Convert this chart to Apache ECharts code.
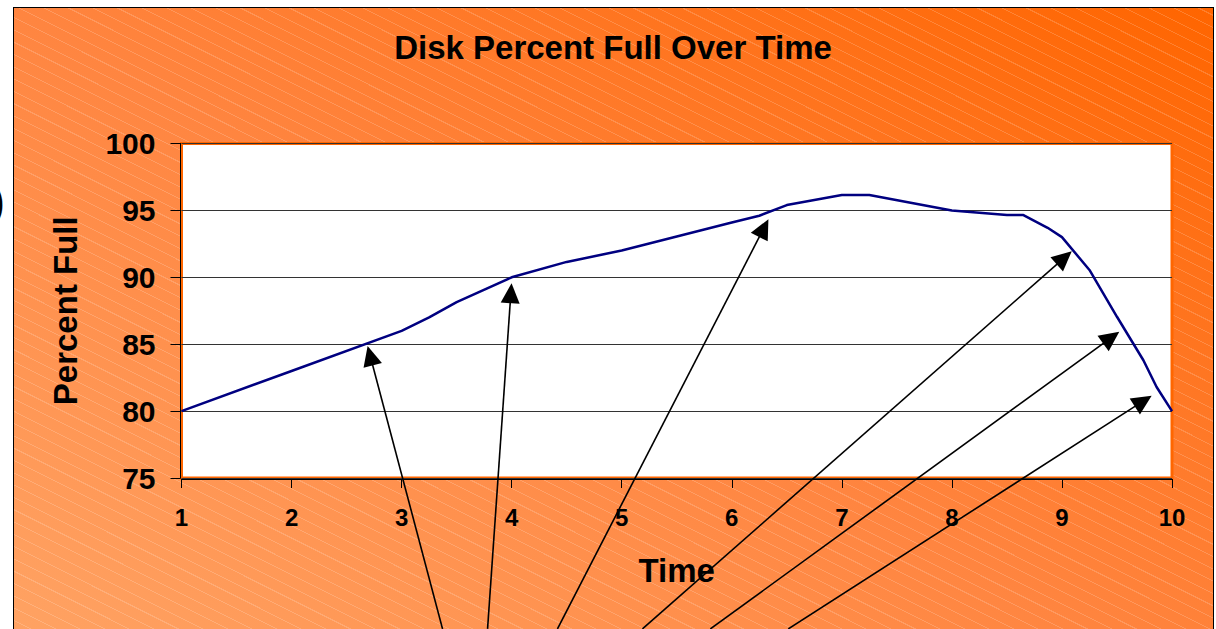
<!DOCTYPE html>
<html>
<head>
<meta charset="utf-8">
<script src="https://cdn.jsdelivr.net/npm/echarts@6/dist/echarts.min.js"></script>
<style>
  html, body { margin: 0; padding: 0; background: #ffffff; }
  #wrap { position: relative; width: 1216px; height: 629px; overflow: hidden; background: #ffffff; }
  #frame {
    position: absolute; left: 13px; top: 7px; width: 1201px; height: 700px;
    box-sizing: border-box; border: 1px solid #000;
    background:
      repeating-linear-gradient(26.6deg, rgba(255,255,255,0) 0px, rgba(255,255,255,0) 10px, rgba(255,255,255,0.17) 10px, rgba(255,255,255,0.17) 11px),
      linear-gradient(to top right, #ffa667 0%, #ff8540 50%, #ff6500 100%);
  }
  #main { position: absolute; left: 0; top: 0; width: 1216px; height: 629px; }
</style>
</head>
<body>
<div id="wrap">
  <div id="frame"></div>
  <div id="main"></div>
</div>
<script>
// ---- data ----
const timeValues  = [1, 2, 3, 3.25, 3.5, 4, 4.5, 5, 5.5, 6, 6.25, 6.5, 7, 7.25, 8, 8.5, 8.65, 8.87, 9, 9.25, 9.375, 9.5, 9.74, 9.86, 10];
const percentFull = [80, 83, 86, 87, 88.15, 90, 91.15, 92, 93.05, 94.1, 94.6, 95.4, 96.15, 96.15, 95, 94.65, 94.65, 93.7, 93, 90.55, 88.8, 87.05, 83.8, 81.8, 80];

const xTickLabels = [1, 2, 3, 4, 5, 6, 7, 8, 9, 10];
const yTickLabels = [75, 80, 85, 90, 95, 100];

// annotation arrows (data coordinates): tail (off the bottom) -> tip (on the curve)
const arrowTailX = [3.372, 3.781, 4.416, 5.188, 5.805, 6.513];
const arrowTailY = [63.72, 63.72, 63.72, 63.72, 63.72, 63.72];
const arrowTipX  = [2.691, 3.999, 6.333, 9.089, 9.521, 9.815];
const arrowTipY  = [84.86, 89.56, 94.34, 91.95, 85.93, 81.15];

const titleText = 'Disk Percent Full Over Time';
const xName = 'Time';
const yName = 'Percent Full';

// ---- build ----
const lineData = timeValues.map((t, i) => [t, percentFull[i]]);
const arrowData = arrowTipX.map((x, i) => [x, arrowTipY[i], arrowTailX[i], arrowTailY[i]]);

const FONT = '"Liberation Sans", Arial, Helvetica, sans-serif';
const chart = echarts.init(document.getElementById('main'), null, { renderer: 'svg' });

chart.setOption({
  animation: false,
  backgroundColor: 'transparent',
  graphic: [
    {
      type: 'text', x: 613, y: 47, z: 10,
      style: { text: titleText, fill: '#000', font: 'bold 33px ' + FONT, textAlign: 'center', textVerticalAlign: 'middle' }
    },
    {
      type: 'text', x: -9, y: 202, z: 10,
      style: { text: ')', fill: '#000', font: 'bold 40px ' + FONT, textAlign: 'left', textVerticalAlign: 'middle' }
    }
  ],
  grid: {
    left: 181.5, top: 143.5, width: 990.5, height: 334.5,
    show: true, backgroundColor: '#ffffff', borderColor: '#ff6600', borderWidth: 3
  },
  xAxis: {
    type: 'value',
    min: xTickLabels[0], max: xTickLabels[xTickLabels.length - 1], interval: 1,
    offset: 1,
    name: xName, nameLocation: 'middle', nameGap: 75,
    nameTextStyle: { color: '#000', fontFamily: FONT, fontWeight: 'bold', fontSize: 33 },
    axisLine: { show: true, lineStyle: { color: '#000', width: 1 } },
    axisTick: { show: true, length: 9, lineStyle: { color: '#000', width: 1 } },
    axisLabel: { color: '#000', fontFamily: FONT, fontWeight: 'bold', fontSize: 24, margin: 26 },
    splitLine: { show: false }
  },
  yAxis: {
    type: 'value',
    min: yTickLabels[0], max: yTickLabels[yTickLabels.length - 1], interval: 5,
    offset: 1,
    name: yName, nameLocation: 'middle', nameGap: 99, nameRotate: 90,
    nameTextStyle: { color: '#000', fontFamily: FONT, fontWeight: 'bold', fontSize: 33 },
    axisLine: { show: true, lineStyle: { color: '#000', width: 1 } },
    axisTick: { show: true, length: 10, lineStyle: { color: '#000', width: 1 } },
    axisLabel: { color: '#000', fontFamily: FONT, fontWeight: 'bold', fontSize: 30, margin: 25 },
    splitLine: { show: true, lineStyle: { color: '#333', width: 1 } }
  },
  series: [
    {
      type: 'line',
      data: lineData,
      showSymbol: false,
      symbol: 'none',
      smooth: false,
      z: 3,
      lineStyle: { color: '#000080', width: 2.5 }
    },
    {
      type: 'custom',
      data: arrowData,
      encode: { x: [0, 2], y: [1, 3] },
      clip: false,
      z: 5,
      renderItem: function (params, api) {
        const tip = api.coord([api.value(0), api.value(1)]);
        const tail = api.coord([api.value(2), api.value(3)]);
        const dx = tip[0] - tail[0], dy = tip[1] - tail[1];
        const len = Math.sqrt(dx * dx + dy * dy);
        const ux = dx / len, uy = dy / len;
        const headLen = 20, halfW = 9.5;
        const bx = tip[0] - ux * headLen, by = tip[1] - uy * headLen;
        const px = -uy, py = ux;
        return {
          type: 'group',
          children: [
            {
              type: 'line',
              shape: { x1: tail[0], y1: tail[1], x2: bx + ux * 2, y2: by + uy * 2 },
              style: { stroke: '#000', lineWidth: 1.6 }
            },
            {
              type: 'polygon',
              shape: { points: [tip, [bx + px * halfW, by + py * halfW], [bx - px * halfW, by - py * halfW]] },
              style: { fill: '#000', stroke: null }
            }
          ]
        };
      }
    }
  ]
});
</script>
</body>
</html>
